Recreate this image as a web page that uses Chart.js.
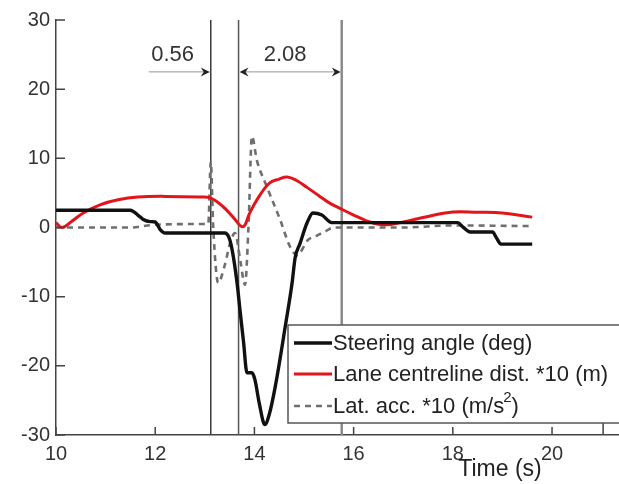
<!DOCTYPE html>
<html lang="en">
<head>
<meta charset="UTF-8">
<title>Steering manoeuvre</title>
<style>
  body { margin: 0; background: #fff; }
  canvas { display: block; }
</style>
</head>
<body>
<canvas id="myChart" width="619" height="484"></canvas>

<script src="https://cdn.jsdelivr.net/npm/chart.js"></script>
<script>
// time ticks and value ticks
const xTicks = [10, 12, 14, 16, 18, 20];
const yTicks = [-30, -20, -10, 0, 10, 20, 30];

// steering angle (deg)
const steerT = [10, 11.5, 11.65, 11.75, 11.9, 12.0, 12.1, 12.2, 13.4, 13.49, 13.55, 13.65, 13.71, 13.78, 13.85, 13.95, 14.01, 14.1, 14.21, 14.3, 14.42, 14.62, 14.76, 14.82, 14.92, 15.06, 15.18, 15.36, 15.56, 18.1, 18.2, 18.35, 18.8, 18.88, 18.97, 19.6];
const steerV = [2.5, 2.5, 1.8, 1.2, 0.85, 0.8, -0.3, -0.8, -0.8, -1.5, -3.2, -8, -12, -16.5, -21, -21, -22, -25.5, -28.5, -27, -23, -14.4, -8, -4.4, -2.3, 0.65, 2.1, 1.8, 0.7, 0.7, 0.1, -0.65, -0.65, -1.5, -2.4, -2.4];

// lane centreline distance *10 (m)
const laneT = [10, 10.12, 10.3, 10.55, 10.9, 11.25, 11.65, 12.2, 12.9, 13.12, 13.37, 13.57, 13.77, 13.9, 14.05, 14.3, 14.5, 14.66, 14.85, 15.06, 15.3, 15.5, 15.77, 16.0, 16.25, 16.5, 16.75, 17.0, 17.5, 18.0, 18.5, 19.0, 19.6];
const laneV = [0.7, 0.0, 0.8, 2.1, 3.3, 4.0, 4.4, 4.5, 4.4, 4.25, 3.0, 1.5, 0.1, 2.0, 4.0, 6.4, 7.0, 7.3, 6.8, 5.8, 4.6, 3.6, 2.6, 1.8, 1.0, 0.45, 0.45, 0.8, 1.6, 2.25, 2.2, 2.1, 1.5];

// lateral acceleration *10 (m/s2)
const accT = [10, 11.5, 12.0, 13.0, 13.07, 13.12, 13.17, 13.27, 13.4, 13.52, 13.61, 13.72, 13.81, 13.88, 13.95, 14.05, 14.25, 14.52, 14.72, 14.86, 15.08, 15.25, 15.42, 15.6, 17.0, 18.0, 19.6];
const accV = [0, 0, 0.4, 0.5, 0.5, 9.5, 0, -8, -5.5, -2, -0.8, -5, -8.3, 0, 13.2, 9.7, 5.9, 1.1, -2.8, -4.0, -1.8, -1.2, -0.6, 0, 0, 0.3, 0.2];

// event markers (s)
const markerTimes = [13.12, 13.68, 15.76];

const seriesLabels = ['Steering angle (deg)', 'Lane centreline dist. *10 (m)', 'Lat. acc. *10 (m/s²)'];

function toPoints(t, v) {
    return t.map((x, i) => ({ x: x, y: v[i] }));
}

const FONT = '"Liberation Sans", Arial, sans-serif';

// matlab-like decorations: markers, inward ticks, dimension arrows, legend
const figurePlugin = {
    id: 'figure',
    beforeDatasetsDraw(chart) {
        const { ctx, chartArea, scales } = chart;
        const colors = ['#3a3a3a', '#555', '#8a8a8a'];
        const widths = [1.5, 1.5, 2.5];
        ctx.save();
        markerTimes.forEach((t, i) => {
            const px = scales.x.getPixelForValue(t);
            ctx.strokeStyle = colors[i];
            ctx.lineWidth = widths[i];
            ctx.beginPath();
            ctx.moveTo(px, chartArea.top);
            ctx.lineTo(px, chartArea.bottom);
            ctx.stroke();
        });
        ctx.restore();
    },
    afterDatasetsDraw(chart) {
        const { ctx, chartArea, scales } = chart;
        const xs = scales.x, ys = scales.y;
        ctx.save();

        // inward ticks
        ctx.strokeStyle = '#444';
        ctx.lineWidth = 1.5;
        ctx.beginPath();
        yTicks.forEach(v => {
            const py = ys.getPixelForValue(v);
            ctx.moveTo(chartArea.left, py);
            ctx.lineTo(chartArea.left + 9, py);
        });
        xTicks.forEach(v => {
            const px = xs.getPixelForValue(v);
            ctx.moveTo(px, chartArea.bottom);
            ctx.lineTo(px, chartArea.bottom - 8);
        });
        const endPx = xs.getPixelForValue(21.03);
        ctx.moveTo(endPx, chartArea.bottom);
        ctx.lineTo(endPx, chartArea.bottom - 12);
        ctx.stroke();

        // dimension arrows
        const arrowY = ys.getPixelForValue(22.5);
        const labelY = ys.getPixelForValue(25);
        function head(x, dir) {
            ctx.beginPath();
            ctx.moveTo(x, arrowY);
            ctx.lineTo(x - dir * 9, arrowY - 4.5);
            ctx.lineTo(x - dir * 6, arrowY);
            ctx.lineTo(x - dir * 9, arrowY + 4.5);
            ctx.closePath();
            ctx.fill();
        }
        const m1 = xs.getPixelForValue(markerTimes[0]);
        const m2 = xs.getPixelForValue(markerTimes[1]);
        const m3 = xs.getPixelForValue(markerTimes[2]);
        ctx.strokeStyle = '#999';
        ctx.lineWidth = 1;
        ctx.beginPath();
        ctx.moveTo(xs.getPixelForValue(markerTimes[0] - 1.25), arrowY);
        ctx.lineTo(m1 - 3, arrowY);
        ctx.moveTo(m2 + 3, arrowY);
        ctx.lineTo(m3 - 3, arrowY);
        ctx.stroke();
        ctx.fillStyle = '#222';
        head(m1 - 1, 1);
        head(m2 + 1, -1);
        head(m3 - 1, 1);

        ctx.font = '22px ' + FONT;
        ctx.fillStyle = '#333';
        ctx.textAlign = 'center';
        ctx.textBaseline = 'middle';
        ctx.fillText((markerTimes[1] - markerTimes[0]).toFixed(2), xs.getPixelForValue(12.35), labelY);
        ctx.fillText((markerTimes[2] - markerTimes[1]).toFixed(2), xs.getPixelForValue(14.62), labelY);

        // axis title
        ctx.font = '23px ' + FONT;
        ctx.fillStyle = '#222';
        ctx.fillText('Time (s)', 500, 470);

        // legend
        const bx = 288, by = 325, bh = 98;
        ctx.fillStyle = '#fff';
        ctx.fillRect(bx, by, chart.width - bx + 5, bh);
        ctx.strokeStyle = '#555';
        ctx.lineWidth = 1.5;
        ctx.strokeRect(bx, by, chart.width - bx + 5, bh);
        const rows = [343, 374, 406];
        chart.data.datasets.forEach((ds, i) => {
            const y = rows[i];
            ctx.strokeStyle = ds.borderColor;
            ctx.lineWidth = ds.borderWidth;
            ctx.setLineDash(ds.borderDash || []);
            ctx.beginPath();
            ctx.moveTo(294, y);
            ctx.lineTo(332, y);
            ctx.stroke();
            ctx.setLineDash([]);
            ctx.fillStyle = '#222';
            ctx.textAlign = 'left';
            ctx.textBaseline = 'middle';
            ctx.font = '22px ' + FONT;
            const parts = ds.label.split('²');
            let x = 333;
            ctx.fillText(parts[0], x, y + 1);
            if (parts.length > 1) {
                x += ctx.measureText(parts[0]).width;
                ctx.font = '15px ' + FONT;
                ctx.fillText('2', x - 1, y - 8);
                x += ctx.measureText('2').width - 1;
                ctx.font = '22px ' + FONT;
                ctx.fillText(parts[1], x, y + 1);
            }
        });
        ctx.restore();
    }
};

new Chart(document.getElementById('myChart').getContext('2d'), {
    type: 'line',
    data: {
        datasets: [
            {
                label: seriesLabels[0],
                data: toPoints(steerT, steerV),
                borderColor: '#111',
                borderWidth: 3.4,
                pointRadius: 0,
                cubicInterpolationMode: 'monotone'
            },
            {
                label: seriesLabels[1],
                data: toPoints(laneT, laneV),
                borderColor: '#e3151b',
                borderWidth: 3,
                pointRadius: 0,
                tension: 0.4
            },
            {
                label: seriesLabels[2],
                data: toPoints(accT, accV),
                borderColor: '#6f6f6f',
                borderWidth: 2.6,
                borderDash: [6, 5],
                pointRadius: 0,
                cubicInterpolationMode: 'monotone'
            }
        ]
    },
    options: {
        responsive: false,
        animation: false,
        layout: { padding: { top: 20, right: 0, bottom: 0, left: 0 } },
        plugins: {
            legend: { display: false },
            tooltip: { enabled: false }
        },
        scales: {
            x: {
                type: 'linear',
                min: 10,
                max: 21.35,
                afterBuildTicks: s => { s.ticks = xTicks.map(v => ({ value: v })); },
                afterFit: s => { s.height = 49; },
                grid: { display: false, drawTicks: false },
                border: { color: '#444', width: 1.5 },
                ticks: { padding: 7, color: '#333', font: { family: FONT, size: 20 } }
            },
            y: {
                min: -30,
                max: 30,
                afterBuildTicks: s => { s.ticks = yTicks.map(v => ({ value: v })); },
                afterFit: s => { s.width = 56; },
                grid: { display: false, drawTicks: false },
                border: { color: '#444', width: 1.5 },
                ticks: { padding: 6, color: '#333', font: { family: FONT, size: 20 } }
            }
        }
    },
    plugins: [figurePlugin]
});
</script>
</body>
</html>
